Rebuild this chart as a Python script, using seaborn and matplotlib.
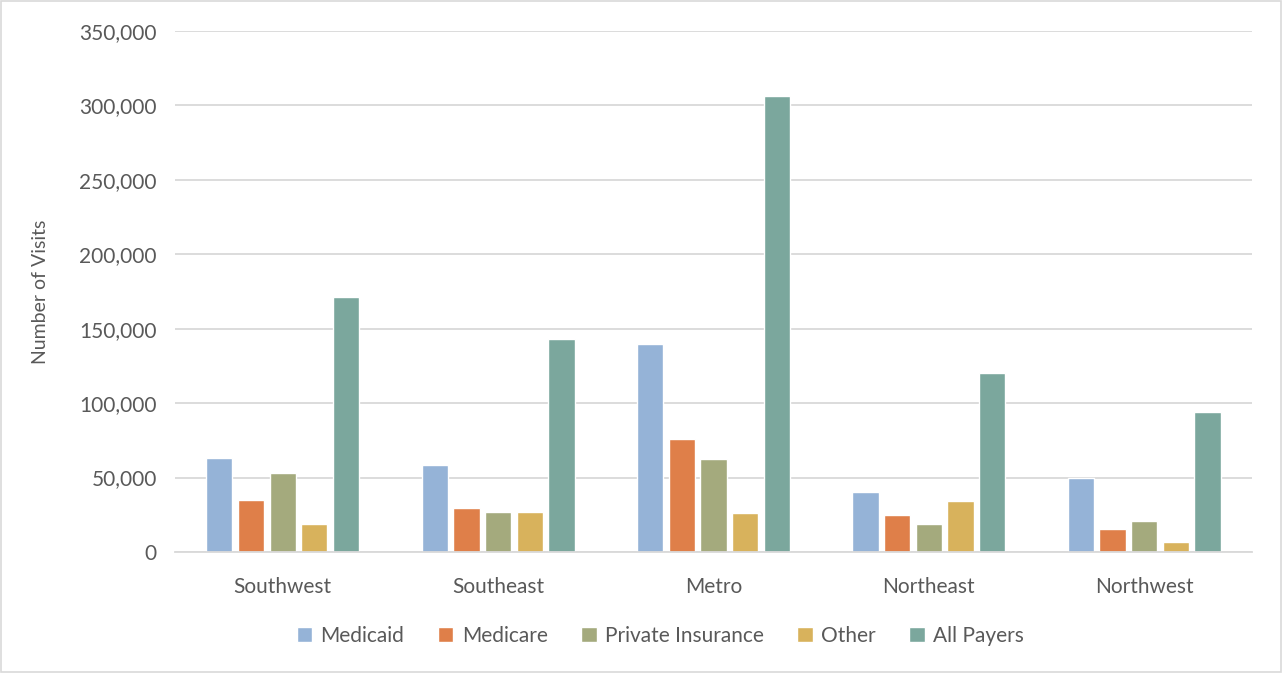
import matplotlib
matplotlib.use("Agg")
import matplotlib.pyplot as plt
import pandas as pd
import seaborn as sns
from matplotlib.ticker import FuncFormatter

regions = ["Southwest", "Southeast", "Metro", "Northeast", "Northwest"]
payers = ["Medicaid", "Medicare", "Private Insurance", "Other", "All Payers"]

medicaid = [63300, 58400, 140000, 40600, 49500]
medicare = [34800, 29400, 75600, 24900, 15600]
private_ins = [53000, 26900, 62400, 19100, 21100]
other = [19000, 26900, 26500, 34300, 6400]
all_payers = [171600, 143100, 306300, 120000, 94000]

colors = ["#95B3D7", "#DF7F49", "#A4AA7D", "#D8B25C", "#7BA79D"]
text_col = "#595959"
grid_col = "#D9D9D9"

rows = []
for p, vals in zip(payers, [medicaid, medicare, private_ins, other, all_payers]):
    for r, v in zip(regions, vals):
        rows.append({"Region": r, "Payer": p, "Visits": v})
df = pd.DataFrame(rows)

sns.set_theme(style="white")
plt.rcParams["font.family"] = ["Lato", "DejaVu Sans"]

fig = plt.figure(figsize=(12.82, 6.73), dpi=100)
ax = fig.add_axes([0.1365, 0.1798, 0.84, 0.7741])

sns.barplot(data=df, x="Region", y="Visits", hue="Payer", order=regions,
            hue_order=payers, palette=colors, width=0.735, gap=0.17,
            saturation=1, ax=ax, legend=True)

ax.set_ylim(0, 350000)
ax.set_yticks(range(0, 350001, 50000))
ax.yaxis.set_major_formatter(FuncFormatter(lambda v, _: f"{int(v):,}"))
ax.grid(axis="y", color=grid_col, linewidth=1.3)
ax.set_axisbelow(True)
for s in ["top", "right", "left"]:
    ax.spines[s].set_visible(False)
ax.spines["bottom"].set_color(grid_col)
ax.spines["bottom"].set_linewidth(1.3)
ax.tick_params(axis="both", length=0, labelsize=15, colors=text_col)
ax.tick_params(axis="y", pad=13)
ax.tick_params(axis="x", pad=18)
ax.set_xlabel("")
ax.set_ylabel("Number of Visits", fontsize=14, color=text_col, labelpad=22)

handles, labels = ax.get_legend_handles_labels()
ax.get_legend().remove()
fig.legend(handles, labels, loc="center", bbox_to_anchor=(0.515, 0.055), ncol=5,
           frameon=False, fontsize=15, handlelength=0.75, handleheight=0.75,
           handletextpad=0.4, columnspacing=1.6, labelcolor=text_col)

fig.patches.append(plt.Rectangle((0.001, 0.001), 0.998, 0.998, transform=fig.transFigure,
                                 fill=False, edgecolor=grid_col, linewidth=1.2))

fig.savefig("out.png", dpi=100)
